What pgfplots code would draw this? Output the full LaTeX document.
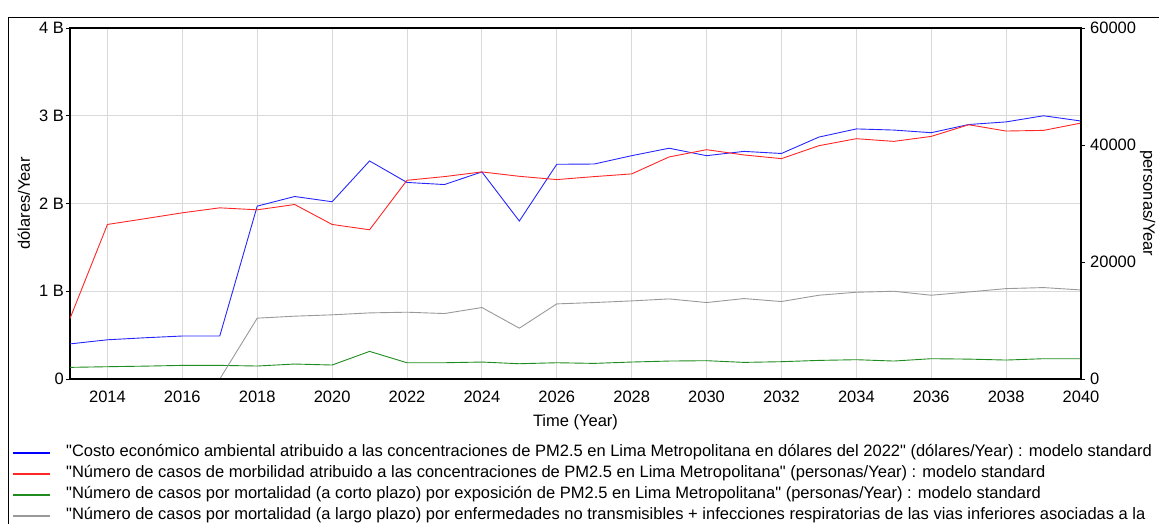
\documentclass[border=0pt]{standalone}
\usepackage{fontspec}
\setmainfont{Liberation Sans}[Ligatures=TeXOff]
\usepackage{pgfplots}
\pgfplotsset{compat=1.18}

\newcommand\fs{\fontsize{16.5}{19}\selectfont}
\definecolor{lgreen}{RGB}{30,140,30}

\pgfplotsset{
  base/.style={
    scale only axis, width=1011pt, height=351pt,
    xmin=2013, xmax=2040,
    font=\fs, tick label style={font=\fs},
    /pgf/number format/1000 sep={},
    /pgf/number format/assume math mode=true,
    axis line style={-, line width=1.5pt},
    tick align=outside, major tick length=4pt,
    tick style={black, line width=0.8pt},
  }
}

\begin{document}
\fs
\begin{tikzpicture}
\useasboundingbox (-70pt,-144pt) rectangle (1089pt,379pt);
\clip (-70pt,-144pt) rectangle (1089pt,379pt);

% left axis: costo (dolares/Year), values in billions
\begin{axis}[base,
  ymin=0, ymax=4,
  ytick={0,1,2,3,4}, yticklabels={0,1 B,2 B,3 B,4 B},
  xtick={2014,2016,...,2040},
  grid=major, grid style={gray!30, line width=1pt},
  xtick style={draw=none},
  ytick pos=left,
  y tick label style={inner sep=0pt, xshift=-2pt},
  x tick label style={inner sep=0pt, yshift=-8pt},
  xlabel={Time (Year)},
  xlabel style={at={(axis description cs:0.5,-0.1245)}, anchor=center},
  ylabel={dólares/Year},
  ylabel style={at={(axis description cs:-0.0455,0.5)}, anchor=center},
]
\addplot[blue!85, line width=0.9pt] coordinates {
 (2013,0.40)(2014,0.447)(2015,0.47)(2016,0.49)(2017,0.49)(2018,1.97)
 (2019,2.08)(2020,2.02)(2021,2.485)(2022,2.24)(2023,2.216)(2024,2.36)
 (2025,1.80)(2026,2.447)(2027,2.45)(2028,2.545)(2029,2.63)(2030,2.545)
 (2031,2.594)(2032,2.57)(2033,2.757)(2034,2.85)(2035,2.837)(2036,2.807)
 (2037,2.90)(2038,2.93)(2039,3.00)(2040,2.94)
};
\end{axis}

% right axis: personas/Year
\begin{axis}[base,
  ymin=0, ymax=60000,
  ytick={0,20000,40000,60000},
  scaled y ticks=false,
  axis y line*=right, axis x line*=bottom,
  xtick=\empty, axis on top,
  y tick label style={inner sep=0pt, xshift=5pt},
  ylabel={personas/Year},
  ylabel style={rotate=180, at={(axis description cs:1.0658,0.5)}, anchor=center},
  legend style={at={(axis description cs:-0.0574,-0.1863)}, anchor=north west,
    draw=none, fill=none, font=\fs, inner sep=0pt, row sep=5pt,
    nodes={inner sep=0pt, text height=12pt, text depth=4pt},
    /tikz/every odd column/.append style={column sep=15pt}},
  legend cell align=left,
  legend image code/.code={\draw[#1, line width=2pt] (0pt,0pt) -- (37pt,0pt);},
]
\addlegendimage{blue}
\addlegendentry{"Costo económico ambiental atribuido a las concentraciones de PM2.5 en Lima Metropolitana en dólares del 2022" (dólares/Year) : modelo standard}

\addplot[red!85, line width=0.9pt] coordinates {
 (2013,10350)(2014,26420)(2015,27400)(2016,28410)(2017,29260)(2018,28920)
 (2019,29830)(2020,26420)(2021,25510)(2022,33970)(2023,34600)(2024,35400)
 (2025,34650)(2026,34090)(2027,34600)(2028,35060)(2029,37960)(2030,39200)
 (2031,38300)(2032,37670)(2033,39880)(2034,41080)(2035,40620)(2036,41470)
 (2037,43460)(2038,42390)(2039,42500)(2040,43750)
};
\addlegendentry{"Número de casos de morbilidad atribuido a las concentraciones de PM2.5 en Lima Metropolitana" (personas/Year) : modelo standard}

\addplot[lgreen, line width=0.9pt] coordinates {
 (2013,1990)(2014,2100)(2015,2200)(2016,2330)(2017,2330)(2018,2220)
 (2019,2560)(2020,2390)(2021,4720)(2022,2780)(2023,2780)(2024,2900)
 (2025,2610)(2026,2780)(2027,2670)(2028,2900)(2029,3070)(2030,3130)
 (2031,2840)(2032,2960)(2033,3180)(2034,3300)(2035,3070)(2036,3470)
 (2037,3400)(2038,3240)(2039,3470)(2040,3470)
};
\addlegendentry{"Número de casos por mortalidad (a corto plazo) por exposición de PM2.5 en Lima Metropolitana" (personas/Year) : modelo standard}

\addplot[gray!80, line width=0.9pt] coordinates {
 (2013,0)(2014,0)(2015,0)(2016,0)(2017,0)(2018,10400)
 (2019,10740)(2020,10970)(2021,11300)(2022,11420)(2023,11190)(2024,12220)
 (2025,8690)(2026,12840)(2027,13070)(2028,13350)(2029,13690)(2030,13070)
 (2031,13750)(2032,13240)(2033,14320)(2034,14830)(2035,15000)(2036,14320)
 (2037,14880)(2038,15450)(2039,15630)(2040,15220)
};
\addlegendentry{"Número de casos por mortalidad (a largo plazo) por enfermedades no transmisibles + infecciones respiratorias de las vias inferiores asociadas a la}
\end{axis}

% outer frame
\draw[line width=1.5pt] (-61.7pt,-200pt) -- (-61.7pt,361.7pt) -- (1200pt,361.7pt);
\end{tikzpicture}
\end{document}
